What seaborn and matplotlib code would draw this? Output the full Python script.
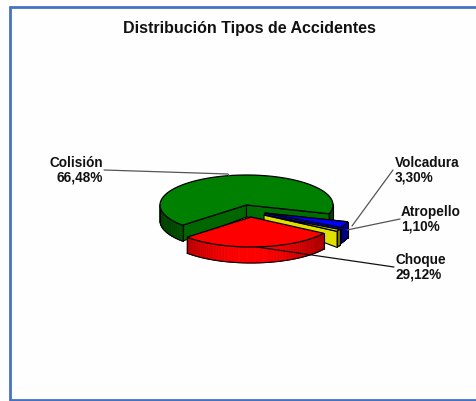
# Exploded 3D look pie, drawn on a pixel sized axes.
import numpy as np
import seaborn as sns
import matplotlib.pyplot as plt

sns.set_style("white")
plt.rcParams['font.family'] = ['Liberation Sans', 'DejaVu Sans']

title = "Distribución Tipos de Accidentes"
categories = ["Colisión", "Choque", "Atropello", "Volcadura"]
values = [66.48, 29.12, 1.10, 3.30]
value_labels = ["66,48%", "29,12%", "1,10%", "3,30%"]
colors = sns.color_palette(["#008000", "#ff0000", "#e6e600", "#0000ff"])

# layout in pixels
centers = [(246.5, 205), (251, 217), (264, 215), (265, 213)]
label_pos = [(103, 170), (395, 267), (401, 219), (395, 170)]
label_ha = ["right", "left", "left", "left"]
leaders = [[(104, 170), (228, 174), (229, 176)],
           [(394, 267), (257, 247)],
           [(400, 219), (347, 230)],
           [(393, 170), (352, 226)]]
leader_cols = ["#555555", "#111111", "#555555", "#555555"]
rx, ry, depth = 86.5, 30, 16
apex_depth = [12, 16, 5, 5]
start = -17
draw_order = [0, 3, 2, 1]


def pt(c, t, dz=0):
    t = np.radians(t)
    return c[0] + rx * np.cos(t), c[1] - ry * np.sin(t) + dz


def shade(col, f):
    return tuple(v * f for v in col)


fig = plt.figure(figsize=(4.76, 4.01), dpi=100, facecolor="#fefefe")
ax = fig.add_axes([0, 0, 1, 1])
ax.set_xlim(0, 476)
ax.set_ylim(401, 0)
ax.axis("off")

# frame of the pasted chart
ax.plot([476, 10, 10, 476], [7, 7, 400, 400], color="#4472c4", lw=2.0, solid_joinstyle="miter")

edges = np.cumsum([0] + values) * 3.6 + start

for z, i in enumerate(draw_order):
    c = centers[i]
    col = colors[i]
    zo = 2 + z
    a0, a1 = edges[i], edges[i + 1]
    arc = np.linspace(a0, a1, 100)
    x0, y0 = pt(c, a0)
    x1, y1 = pt(c, a1)

    # flat cut faces, the apex end is drawn shorter as in the original
    for xe, ye, f in [(x1, y1, 0.8), (x0, y0, 0.85)]:
        if i == 1:
            continue
        if i == 2 and f == 0.8:
            continue
        ax.fill([c[0], xe, xe, c[0]], [c[1], ye, ye + depth, c[1] + apex_depth[i]],
                color=shade(col, 0.97 if i == 2 else f), ec="black", lw=0.8, zorder=zo)

    # outer wall, strip by strip so the shading changes along it
    for t0, t1 in zip(arc[:-1], arc[1:]):
        tm = (t0 + t1) / 2
        if np.sin(np.radians(tm)) > 0.02:
            continue
        f = 0.6 + 0.4 * abs(np.sin(np.radians(tm))) ** 3
        if i != 1:
            f *= 0.85
        xa, ya = pt(c, t0)
        xb, yb = pt(c, t1)
        wall = shade(col, f)
        ax.fill([xa, xb, xb, xa], [ya, yb, yb + depth, ya + depth],
                fc=wall, ec=wall, lw=0.6, zorder=zo)

    # outline of the wall
    front = arc[np.sin(np.radians(arc)) <= 0.02]
    for part in np.split(front, np.where(np.diff(front) > 5)[0] + 1):
        xs, ys = pt(c, part, depth)
        ax.plot(xs, ys, color="black", lw=0.8, zorder=zo)
        for t in (part[0], part[-1]):
            xa, ya = pt(c, t)
            ax.plot([xa, xa], [ya, ya + depth], color="black", lw=0.8, zorder=zo)

    # top face
    xs, ys = pt(c, arc)
    ax.fill(np.r_[c[0], xs], np.r_[c[1], ys], color=col, ec="black", lw=0.9, zorder=zo)

for line, lc in zip(leaders, leader_cols):
    xs, ys = zip(*line)
    ax.plot(xs, ys, color=lc, lw=0.9, zorder=10)

for name, lab, (x, y), ha in zip(categories, value_labels, label_pos, label_ha):
    ax.text(x, y, f"{name}\n{lab}", ha=ha, va="center", fontsize=9.8,
            fontweight="bold", color="#111111", linespacing=1.05, zorder=11)

ax.text(249, 28, title, ha="center", va="center", fontsize=11.5,
        fontweight="bold", color="#111111")

fig.savefig("out.png", dpi=100, facecolor=fig.get_facecolor())
